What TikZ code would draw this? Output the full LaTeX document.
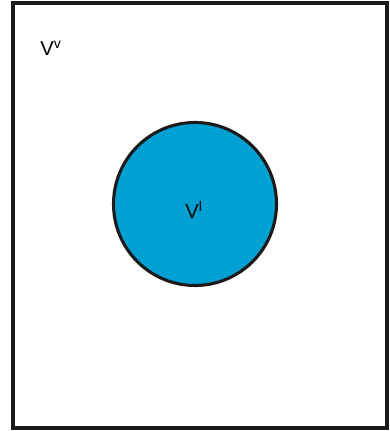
\documentclass[tikz,border=0pt]{standalone}
\usepackage{fontspec}
\setmainfont{Liberation Sans}
\usepackage{xcolor}
\definecolor{Domain}{HTML}{1A1A1A}
\definecolor{Liquid}{HTML}{00A0D2}
\usetikzlibrary{positioning}

\begin{document}
\begin{tikzpicture}[x=0.025cm, y=0.025cm,
  wall/.style={draw=Domain, line width=2.6pt},
  drop/.style={circle, draw=Domain, line width=2.2pt, fill=Liquid,
               minimum size=163*0.025cm, inner sep=0pt},
  lbl/.style={font=\Large, inner sep=0pt}
]
\useasboundingbox (0,0) rectangle (389,431);

%% ---- outer vapour region ----
\draw[wall] (13,3) rectangle (387,428);
\node[lbl] (vapour) at (51,383) {V\textsuperscript{v}};

%% ---- liquid droplet ----
\node[drop] (droplet) at (195,227) {};
\node[lbl] (liquid) at (194,221) {V\textsuperscript{l}};
\end{tikzpicture}
\end{document}
